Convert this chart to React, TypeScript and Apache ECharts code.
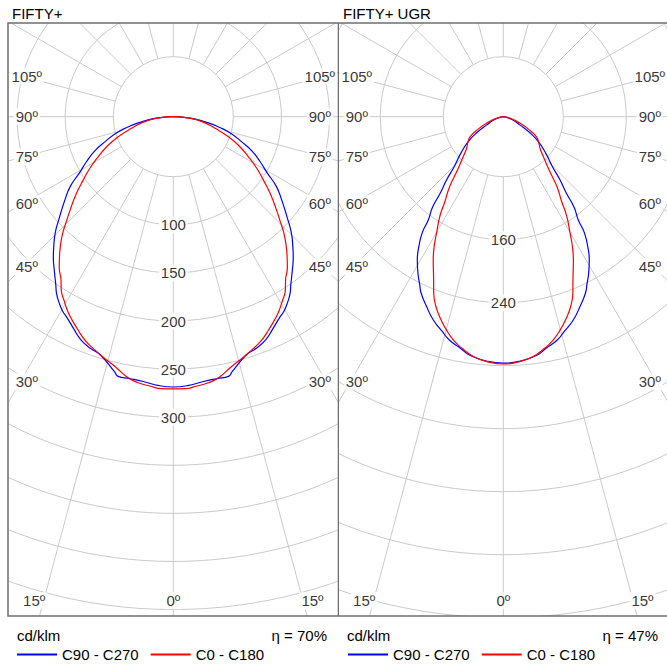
import React, { useEffect, useRef } from "react";
import * as echarts from "echarts";

const FONT = "'Liberation Sans', Arial, Helvetica, sans-serif";

// ---- texts ----
const PANEL_TITLES = ["FIFTY+", "FIFTY+ UGR"];
const UNIT_LABEL = "cd/klm";
const EFFICIENCY_LABELS = ["η = 70%", "η = 47%"];
const SERIES_NAMES = ["C90 - C270", "C0 - C180"];
const SERIES_COLORS = ["#0000ff", "#ff0000"];
const ANGLE_TICKS = [0, 15, 30, 45, 60, 75, 90, 105];

// ---- left panel (FIFTY+) ----
const L_RING_LABELS = [100, 150, 200, 250, 300];
const L_C90_GAMMA = [0, 3, 6.5, 9.5, 12, 13, 17, 19.5, 22.5, 25, 28, 29.5, 31.5, 33.5, 35, 37.5, 40.5, 42.5, 45.5, 48.5, 52.5, 56, 59, 62.5, 66.5, 70, 74, 77, 80, 85, 90];
const L_C90_VALUES = [281, 280, 277, 276, 276, 272, 259, 256, 251, 244, 236, 233, 227, 220, 213, 203, 192, 184, 172, 158, 142, 129, 114, 102, 89, 75, 62, 49, 37, 18, 0];
const L_C0_GAMMA = [0, 2.5, 5, 7.5, 10, 13, 16.5, 19, 21.5, 24, 26.5, 28.5, 30.5, 33, 34.5, 37, 39, 41, 43.5, 45.5, 48, 51.5, 55, 58, 61.5, 66, 70, 74.5, 80, 85, 90];
const L_C0_VALUES = [283, 283, 281, 279, 275, 267, 260, 255, 250, 243, 236, 230, 223, 214, 206, 197, 188, 179, 167, 156, 144, 129, 114, 103, 90, 75, 61, 45, 31, 16, 0];

// ---- right panel (FIFTY+ UGR) ----
const R_RING_LABELS = [160, 240];
const R_C90_GAMMA = [0, 4, 8, 10.5, 13.5, 16, 19, 22, 25, 26.5, 28.5, 31, 33, 35, 36, 38, 39.5, 42, 44.5, 49, 54.5, 59, 63.5, 72.5, 90];
const R_C90_VALUES = [313, 311, 306, 299, 292, 283, 273, 260, 247, 238, 227, 212, 197, 179, 162, 146, 126, 107, 89, 72, 55, 39, 24, 11, 0];
const R_C0_GAMMA = [0, 3.5, 7, 10, 12.5, 15, 17, 19.5, 21.5, 23.5, 26, 28, 30, 32.5, 34.5, 37.5, 40.5, 45, 49, 54.5, 59, 63.5, 68.5, 76, 90];
const R_C0_VALUES = [314, 312, 307, 299, 291, 280, 270, 256, 241, 222, 203, 187, 169, 150, 131, 112, 90, 72, 62, 55, 49, 36, 23, 10, 0];

type Panel = {
  left: number;
  width: number;
  center: [number, number];
  innerPx: number;
  outerPx: number;
  ringMin: number;
  ringMax: number;
  ringStep: number;
  curveMax: number;
  curveRadius: number;
  ringLabels: number[];
  curves: { gamma: number[]; values: number[] }[];
  title: string;
  efficiency: string;
  titleX: number;
  unitX: number;
  effRightX: number;
  legendX: number;
  frameLeft: number | null;
  frameRight: number | null;
};

const H = 668;
const FRAME_TOP = 23;
const FRAME_BOTTOM = 616;

const PANELS: Panel[] = [
  {
    left: 0,
    width: 339,
    center: [173.3, 116.7],
    innerPx: 60,
    outerPx: 541,
    ringMin: 50,
    ringMax: 550,
    ringStep: 50,
    curveMax: 550,
    curveRadius: 529.1,
    ringLabels: L_RING_LABELS,
    curves: [
      { gamma: L_C90_GAMMA, values: L_C90_VALUES },
      { gamma: L_C0_GAMMA, values: L_C0_VALUES },
    ],
    title: PANEL_TITLES[0],
    efficiency: EFFICIENCY_LABELS[0],
    titleX: 12,
    unitX: 17,
    effRightX: 327,
    legendX: 17,
    frameLeft: 8,
    frameRight: 338.5,
  },
  {
    left: 339,
    width: 328,
    center: [164.3, 116.7],
    innerPx: 60,
    outerPx: 564,
    ringMin: 80,
    ringMax: 720,
    ringStep: 80,
    curveMax: 720,
    curveRadius: 567,
    ringLabels: R_RING_LABELS,
    curves: [
      { gamma: R_C90_GAMMA, values: R_C90_VALUES },
      { gamma: R_C0_GAMMA, values: R_C0_VALUES },
    ],
    title: PANEL_TITLES[1],
    efficiency: EFFICIENCY_LABELS[1],
    titleX: 4,
    unitX: 8,
    effRightX: 319,
    legendX: 9,
    frameLeft: null,
    frameRight: null,
  },
];

function halfToPolar(gamma: number[], values: number[]) {
  const pts: number[][] = [];
  for (let i = gamma.length - 1; i >= 0; i--) pts.push([values[i], -gamma[i]]);
  for (let i = 1; i < gamma.length; i++) pts.push([values[i], gamma[i]]);
  return pts;
}

function angleLabelData(p: Panel) {
  const toGrid = (dx: number, dy: number) => {
    const d = Math.sqrt(dx * dx + dy * dy);
    const v = p.ringMin + ((d - p.innerPx) * (p.ringMax - p.ringMin)) / (p.outerPx - p.innerPx);
    const a = (Math.atan2(dx, dy) * 180) / Math.PI;
    return [v, a];
  };
  const out: any[] = [];
  ANGLE_TICKS.forEach((g) => {
    const rad = (g * Math.PI) / 180;
    const sides = g === 0 ? [0] : [-1, 1];
    sides.forEach((s) => {
      let dx: number;
      let dy: number;
      if (g >= 30) {
        dx = s * 146.5;
        dy = ((g === 30 ? 153 : 150) * Math.cos(rad)) / Math.sin(rad);
      } else {
        dy = 484;
        dx = s * (484 * Math.tan(rad) + (g > 0 ? 9.5 : 0));
      }
      out.push({ name: g + "º", value: toGrid(dx, dy) });
    });
  });
  return out;
}

function buildOption(p: Panel): any {
  const labelStyle = {
    show: true,
    position: "inside",
    color: "#000",
    fontSize: 15,
    fontFamily: FONT,
    backgroundColor: "#fff",
    padding: [1, 2],
  };
  const baseAngle = {
    type: "value",
    min: -180,
    max: 180,
    startAngle: 90,
    clockwise: false,
  };
  const gridLine = { show: true, lineStyle: { color: "#cacaca", width: 1 } };

  const graphics: any[] = [
    { type: "rect", z: 10, silent: true, shape: { x: 0, y: 0, width: p.width, height: FRAME_TOP }, style: { fill: "#fff" } },
    { type: "rect", z: 10, silent: true, shape: { x: 0, y: FRAME_BOTTOM, width: p.width, height: H - FRAME_BOTTOM }, style: { fill: "#fff" } },
  ];
  if (p.frameLeft !== null) {
    graphics.push({ type: "rect", z: 10, silent: true, shape: { x: 0, y: 0, width: p.frameLeft, height: H }, style: { fill: "#fff" } });
    graphics.push({
      type: "rect",
      z: 20,
      silent: true,
      shape: { x: p.frameLeft, y: FRAME_TOP, width: (p.frameRight as number) - p.frameLeft, height: FRAME_BOTTOM - FRAME_TOP },
      style: { fill: "none", stroke: "#6e6e6e", lineWidth: 1.5 },
    });
  } else {
    graphics.push({ type: "line", z: 20, silent: true, shape: { x1: 0, y1: FRAME_TOP, x2: p.width, y2: FRAME_TOP }, style: { stroke: "#6e6e6e", lineWidth: 1.5 } });
    graphics.push({ type: "line", z: 20, silent: true, shape: { x1: 0, y1: FRAME_BOTTOM, x2: p.width, y2: FRAME_BOTTOM }, style: { stroke: "#6e6e6e", lineWidth: 1.5 } });
  }
  const txt = (text: string, x: number, y: number, align: string) => ({
    type: "text",
    z: 21,
    silent: true,
    style: { text, x, y, textAlign: align, textVerticalAlign: "middle", fontSize: 15, fontFamily: FONT, fill: "#000" },
  });
  graphics.push(txt(p.title, p.titleX, 13, "left"));
  graphics.push(txt(UNIT_LABEL, p.unitX, 635, "left"));
  graphics.push(txt(p.efficiency, p.effRightX, 635, "right"));

  return {
    animation: false,
    backgroundColor: "#fff",
    textStyle: { fontFamily: FONT },
    polar: [
      { center: p.center, radius: [p.innerPx, p.outerPx] },
      { center: p.center, radius: [0, p.curveRadius] },
    ],
    angleAxis: [
      {
        ...baseAngle,
        polarIndex: 0,
        interval: 15,
        axisLine: { show: false },
        axisTick: { show: false },
        axisLabel: { show: false },
        splitLine: gridLine,
        z: 0,
      },
      { ...baseAngle, polarIndex: 1, show: false, splitLine: { show: false } },
    ],
    radiusAxis: [
      {
        polarIndex: 0,
        type: "value",
        min: p.ringMin,
        max: p.ringMax,
        interval: p.ringStep,
        axisLine: { show: false },
        axisTick: { show: false },
        axisLabel: { show: false },
        splitLine: gridLine,
        z: 0,
      },
      { polarIndex: 1, type: "value", min: 0, max: p.curveMax, show: false, splitLine: { show: false } },
    ],
    legend: {
      data: SERIES_NAMES,
      left: p.legendX,
      top: 647,
      padding: 0,
      itemWidth: 40,
      itemHeight: 2,
      itemGap: 12,
      icon: "rect",
      selectedMode: false,
      z: 21,
      textStyle: { fontSize: 15, color: "#000", fontFamily: FONT },
    },
    graphic: graphics,
    series: [
      ...p.curves.map((c, i) => ({
        name: SERIES_NAMES[i],
        type: "line",
        coordinateSystem: "polar",
        polarIndex: 1,
        data: halfToPolar(c.gamma, c.values),
        showSymbol: false,
        symbol: "none",
        smooth: 0.5,
        silent: true,
        z: 3,
        itemStyle: { color: SERIES_COLORS[i] },
        lineStyle: { color: SERIES_COLORS[i], width: 1.2 },
      })),
      {
        name: "rings",
        type: "scatter",
        coordinateSystem: "polar",
        polarIndex: 0,
        symbolSize: 0,
        silent: true,
        z: 2,
        data: p.ringLabels.map((v) => ({ name: String(v), value: [v, 0] })),
        label: { ...labelStyle, formatter: "{b}" },
      },
      {
        name: "angles",
        type: "scatter",
        coordinateSystem: "polar",
        polarIndex: 0,
        symbolSize: 0,
        silent: true,
        z: 2,
        data: angleLabelData(p),
        label: { ...labelStyle, formatter: "{b}" },
      },
    ],
  };
}

function PanelChart({ panel }: { panel: Panel }) {
  const ref = useRef<HTMLDivElement | null>(null);
  useEffect(() => {
    if (!ref.current) return;
    const chart = echarts.init(ref.current, null, { renderer: "svg" });
    chart.setOption(buildOption(panel));
    return () => chart.dispose();
  }, [panel]);
  return (
    <div
      ref={ref}
      style={{ position: "absolute", left: panel.left, top: 0, width: panel.width, height: H, overflow: "hidden" }}
    />
  );
}

export default function App() {
  return (
    <div style={{ position: "absolute", left: 0, top: 0, width: 667, height: H, background: "#fff", overflow: "hidden" }}>
      {PANELS.map((p, i) => (
        <PanelChart key={i} panel={p} />
      ))}
    </div>
  );
}
